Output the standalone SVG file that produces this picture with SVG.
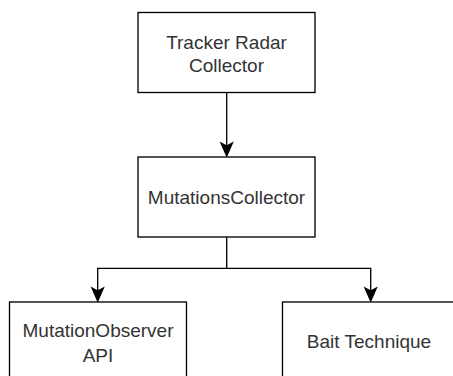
<svg xmlns="http://www.w3.org/2000/svg" width="453" height="376" viewBox="0 0 453 376">
<style>
.box{fill:#fff;stroke:#000;stroke-width:1.33}
.lbl{font-family:"Liberation Sans",Arial,sans-serif;font-size:19px;fill:#333;text-anchor:middle}
.edge{fill:none;stroke:#000;stroke-width:1.33}
.head{fill:#000;stroke:#000;stroke-width:1.33}
</style>
<rect width="453" height="376" fill="#fff"/>
<g id="connectors">
<path class="edge" d="M226.7,92.5 V146"/>
<path class="head" d="M226.7,156 L221,143 L226.7,146 L232.4,143 Z"/>
<path class="edge" d="M226.7,237 V268.3 H97.7 V291"/>
<path class="head" d="M97.7,301 L92,288 L97.7,291 L103.4,288 Z"/>
<path class="edge" d="M226.7,268.3 H370.7 V291"/>
<path class="head" d="M370.7,301 L365,288 L370.7,291 L376.4,288 Z"/>
</g>
<g id="tracker-radar-collector">
<rect class="box" x="138" y="12.5" width="177" height="80"/>
<text class="lbl" x="226.5" y="49">Tracker Radar</text>
<text class="lbl" x="226.5" y="72">Collector</text>
</g>
<g id="mutations-collector">
<rect class="box" x="138" y="157" width="177" height="80"/>
<text class="lbl" x="226.5" y="204">MutationsCollector</text>
</g>
<g id="mutation-observer-api">
<rect class="box" x="9.5" y="302" width="177" height="80"/>
<text class="lbl" x="98" y="337">MutationObserver</text>
<text class="lbl" x="98" y="362">API</text>
</g>
<g id="bait-technique">
<rect class="box" x="282.5" y="302" width="177" height="80"/>
<text class="lbl" x="369" y="348">Bait Technique</text>
</g>
</svg>
